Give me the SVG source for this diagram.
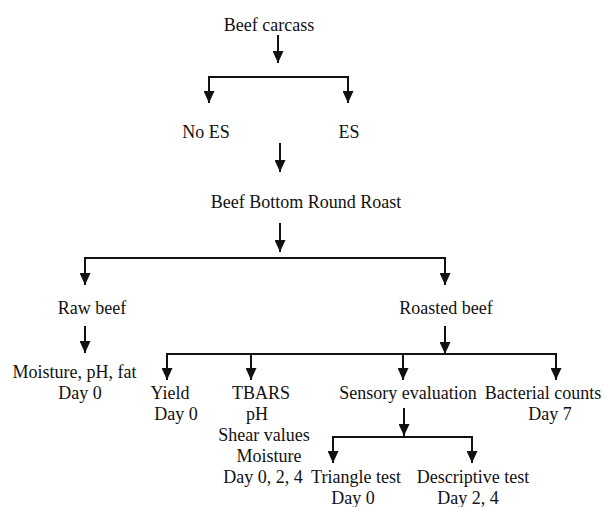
<svg xmlns="http://www.w3.org/2000/svg" width="605" height="507" viewBox="0 0 605 507">
<style>
text{font-family:"Liberation Serif","Times New Roman",serif;font-size:18px;fill:#111;text-anchor:middle}
.c{fill:none;stroke:#111;stroke-width:2}
</style>
<defs>
<marker id="ah" markerUnits="userSpaceOnUse" markerWidth="12" markerHeight="11" refX="12" refY="5.5" orient="auto">
<path d="M0,0 L12,5.5 L0,11 z" fill="#111"/>
</marker>
</defs>
<rect width="605" height="507" fill="#fff"/>
<g id="connectors">
<path class="c" d="M278,35 V63" marker-end="url(#ah)"/>
<path class="c" d="M209,77 H348"/>
<path class="c" d="M209,76 V103" marker-end="url(#ah)"/>
<path class="c" d="M348,76 V103" marker-end="url(#ah)"/>
<path class="c" d="M280,143 V172" marker-end="url(#ah)"/>
<path class="c" d="M280,223 V252" marker-end="url(#ah)"/>
<path class="c" d="M85,258 H445"/>
<path class="c" d="M85,257 V285" marker-end="url(#ah)"/>
<path class="c" d="M445,257 V285" marker-end="url(#ah)"/>
<path class="c" d="M85,326 V353" marker-end="url(#ah)"/>
<path class="c" d="M445,326 V354" marker-end="url(#ah)"/>
<path class="c" d="M167,354 H556"/>
<path class="c" d="M167,353 V380" marker-end="url(#ah)"/>
<path class="c" d="M251,353 V380" marker-end="url(#ah)"/>
<path class="c" d="M403,353 V380" marker-end="url(#ah)"/>
<path class="c" d="M556,353 V380" marker-end="url(#ah)"/>
<path class="c" d="M404,408 V436" marker-end="url(#ah)"/>
<path class="c" d="M333,437 H472"/>
<path class="c" d="M333,436 V463" marker-end="url(#ah)"/>
<path class="c" d="M472,436 V463" marker-end="url(#ah)"/>
</g>
<g id="beef-carcass"><text x="269" y="31">Beef carcass</text></g>
<g id="no-es"><text x="206" y="138">No ES</text></g>
<g id="es"><text x="349" y="138">ES</text></g>
<g id="bottom-round"><text x="306" y="208">Beef Bottom Round Roast</text></g>
<g id="raw-beef"><text x="92" y="314">Raw beef</text></g>
<g id="roasted-beef"><text x="446" y="314">Roasted beef</text></g>
<g id="raw-measures"><text x="74.5" y="378">Moisture, pH, fat</text><text x="80" y="399">Day 0</text></g>
<g id="yield"><text x="170" y="399">Yield</text><text x="176" y="420">Day 0</text></g>
<g id="tbars"><text x="261" y="399">TBARS</text><text x="257" y="420">pH</text><text x="264" y="441">Shear values</text><text x="269" y="462">Moisture</text><text x="263" y="483">Day 0, 2, 4</text></g>
<g id="sensory"><text x="408" y="399">Sensory evaluation</text></g>
<g id="bacterial"><text x="543" y="399">Bacterial counts</text><text x="550" y="420">Day 7</text></g>
<g id="triangle"><text x="356" y="483">Triangle test</text><text x="353" y="504">Day 0</text></g>
<g id="descriptive"><text x="473" y="483">Descriptive test</text><text x="468" y="504">Day 2, 4</text></g>
</svg>
